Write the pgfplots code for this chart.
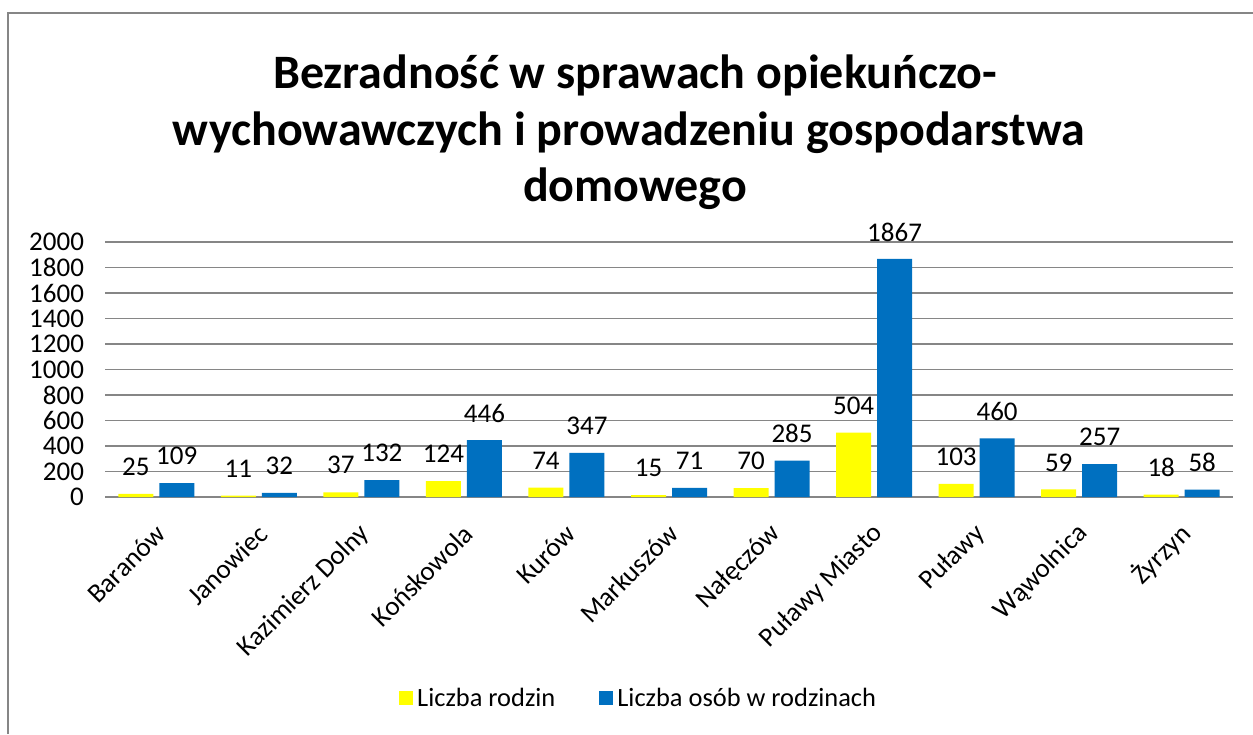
\documentclass[border=0pt]{standalone}
\usepackage{fontspec}
\setmainfont{Carlito}
\usepackage{pgfplots}
\pgfplotsset{compat=1.18}
\definecolor{barY}{HTML}{FFFF00}
\definecolor{barB}{HTML}{0070C0}
\definecolor{gridG}{HTML}{868686}
\begin{document}
\begin{tikzpicture}
\path[use as bounding box, fill=white] (0,0) rectangle (626.5pt,-367pt);
\draw[gridG, line width=0.8pt] (4pt,-367pt) -- (4pt,-6.5pt) -- (626.5pt,-6.5pt);
\node[anchor=base, font=\fontsize{24}{28}\selectfont\bfseries] at (317.5pt,-44pt) {Bezradność w sprawach opiekuńczo-};
\node[anchor=base, font=\fontsize{24}{28}\selectfont\bfseries] at (314.5pt,-72.5pt) {wychowawczych i prowadzeniu gospodarstwa};
\node[anchor=base, font=\fontsize{24}{28}\selectfont\bfseries] at (317.5pt,-100.5pt) {domowego};
\begin{axis}[
  at={(52.5pt,-248.5pt)}, anchor=south west,
  scale only axis, width=564pt, height=127.5pt,
  ybar=3pt, bar width=17.5pt,
  xmin=-0.5, xmax=10.5, ymin=0, ymax=2000,
  ytick={0,200,...,2000},
  xtick={0,...,10},
  xticklabels={Baranów,Janowiec,Kazimierz Dolny,Końskowola,Kurów,Markuszów,Nałęczów,Puławy Miasto,Puławy,Wąwolnica,Żyrzyn},
  xticklabel style={rotate=45, anchor=east, font=\fontsize{13.5}{15}\selectfont, xshift=-6.5pt, yshift=-13pt},
  yticklabel style={font=\fontsize{13.5}{15}\selectfont, xshift=-7pt},
  /pgf/number format/assume math mode=true,
  /pgf/number format/1000 sep={},
  major tick length=0pt,
  axis line style={draw=none},
  ymajorgrids, grid style={gridG, line width=0.8pt},
  nodes near coords,
  every node near coord/.append style={font=\fontsize{13.5}{15}\selectfont, anchor=center, yshift=13.5pt},
  legend columns=2,
  legend style={at={(0.474,-0.792)}, anchor=center, draw=none, fill=none,
    font=\fontsize{13.2}{15}\selectfont,
    /tikz/every even column/.append style={column sep=20pt},
    /tikz/every odd column/.append style={column sep=0pt}},
  legend image code/.code={\fill[#1] (0pt,-3.2pt) rectangle (7pt,3.8pt);},
  clip=false,
]
\addplot[fill=barY, draw=none] coordinates {(0,25) (1,11) (2,37) (3,124) (4,74) (5,15) (6,70) (7,504) (8,103) (9,59) (10,18)};
\addplot[fill=barB, draw=none] coordinates {(0,109) (1,32) (2,132) (3,446) (4,347) (5,71) (6,285) (7,1867) (8,460) (9,257) (10,58)};
\legend{Liczba rodzin, Liczba osób w rodzinach}
\end{axis}
\end{tikzpicture}
\end{document}
